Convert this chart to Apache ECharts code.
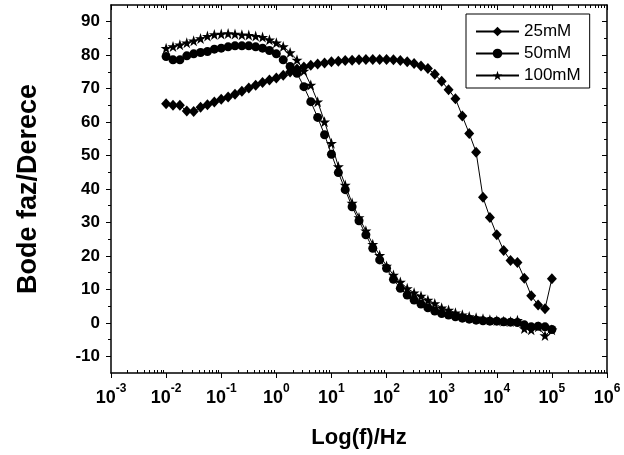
<!DOCTYPE html>
<html lang="tr">
<head>
    <meta charset="utf-8">
    <title>Bode faz</title>
    <script src="https://cdn.jsdelivr.net/npm/echarts@6/dist/echarts.min.js"></script>
</head>
<body>
    <style type="text/css">
        html, body { height: 100%; }
        body { margin: 0; background: #fff; }
    </style>
    <div id="main" style="width:624px;height:455px;"></div>
    <script type="text/javascript">
        // frekans (Hz), 8 nokta/dekad
        var freq = [
            0.01, 0.01334, 0.01778, 0.02371, 0.03162, 0.04217, 0.05623, 0.07499,
            0.1, 0.1334, 0.1778, 0.2371, 0.3162, 0.4217, 0.5623, 0.7499,
            1, 1.334, 1.778, 2.371, 3.162, 4.217, 5.623, 7.499,
            10, 13.34, 17.78, 23.71, 31.62, 42.17, 56.23, 74.99,
            100, 133.4, 177.8, 237.1, 316.2, 421.7, 562.3, 749.9,
            1000, 1334, 1778, 2371, 3162, 4217, 5623, 7499,
            10000, 13340, 17780, 23710, 31620, 42170, 56230, 74990,
            100000
        ];
        var phase25 = [
            65.5, 65.0, 65.0, 63.3, 63.2, 64.4, 65.2, 66.0,
            66.8, 67.5, 68.3, 69.2, 70.2, 71.0, 71.8, 72.6,
            73.2, 74.0, 75.0, 75.9, 76.5, 77.0, 77.4, 77.7,
            78.0, 78.2, 78.4, 78.5, 78.6, 78.7, 78.7, 78.7,
            78.7, 78.6, 78.4, 78.0, 77.5, 76.8, 76.0, 74.3,
            72.2, 69.7, 67.0, 61.8, 56.6, 51.0, 37.5, 31.5,
            26.3, 21.6, 18.6, 18.0, 13.3, 8.1, 5.3, 4.2,
            13.2
        ];
        var phase50 = [
            79.6, 78.6, 78.6, 79.8, 80.4, 80.8, 81.1, 81.8,
            82.1, 82.5, 82.8, 82.8, 82.8, 82.5, 82.1, 81.4,
            80.4, 78.6, 76.6, 74.6, 70.6, 66.1, 61.4, 56.2,
            50.4, 44.9, 39.8, 34.7, 30.5, 26.3, 22.3, 18.8,
            16.3, 13.0, 10.3, 8.3, 6.8, 5.6, 4.5, 3.5,
            2.8, 2.3, 1.8, 1.4, 1.1, 0.8, 0.6, 0.5,
            0.5, 0.3, 0.2, 0.1, -0.6, -1.2, -1.0, -1.2,
            -2.0
        ];
        var phase100 = [
            82.1, 82.6, 83.1, 83.7, 84.3, 85.0, 85.7, 86.2,
            86.3, 86.5, 86.3, 86.1, 86.0, 85.7, 85.4, 84.6,
            83.7, 82.6, 80.8, 78.6, 75.3, 71.1, 66.1, 60.1,
            53.7, 46.7, 41.2, 35.8, 31.5, 27.5, 23.5, 20.2,
            17.0, 14.3, 12.2, 10.3, 9.0, 8.0, 6.8, 5.8,
            4.5, 3.8, 3.0, 2.4, 1.9, 1.5, 1.2, 0.9,
            0.7, 0.5, 0.4, 0.8, -1.7, -2.1, -1.2, -3.8,
            -2.1
        ];
        var seriesNames = ['25mM', '50mM', '100mM'];
        var xMajor = [0.001, 0.01, 0.1, 1, 10, 100, 1000, 10000, 100000, 1000000];
        var xMinor = [];
        xMajor.slice(0, -1).forEach(function (d) {
            for (var k = 2; k <= 9; k++) xMinor.push(d * k);
        });
        var yMajor = [-10, 0, 10, 20, 30, 40, 50, 60, 70, 80, 90];
        var yMinor = [-5, 5, 15, 25, 35, 45, 55, 65, 75, 85];

        var FONT = '"Liberation Sans", Arial, sans-serif';
        var starPath = 'path://M50,0 L61.8,35.1 L98.1,35.1 L68.8,56.8 L79.4,90.5 L50,69.5 L20.6,90.5 L31.2,56.8 L1.9,35.1 L38.2,35.1 Z';

        function pairs(ys) {
            return freq.map(function (f, i) { return [f, ys[i]]; });
        }

        function xAxisDef(pos, ticks, len, inside, showLine, showLabel) {
            return {
                type: 'log', logBase: 10, min: 0.001, max: 1000000,
                position: pos, gridIndex: 0,
                axisLine: { show: showLine, onZero: false, lineStyle: { color: '#000', width: 1.5 } },
                axisTick: { show: true, customValues: ticks, length: len, inside: inside, lineStyle: { color: '#000', width: 1 } },
                splitLine: { show: false },
                axisLabel: showLabel ? {
                    customValues: xMajor,
                    margin: 10,
                    formatter: function (v) {
                        return '{b|10}{s|' + Math.round(Math.log10(v)) + '}';
                    },
                    rich: {
                        b: { fontSize: 18, fontWeight: 'bold', fontFamily: FONT, color: '#000', lineHeight: 24, verticalAlign: 'bottom' },
                        s: { fontSize: 12, fontWeight: 'bold', fontFamily: FONT, color: '#000', lineHeight: 24, verticalAlign: 'top' }
                    }
                } : { show: false }
            };
        }

        function yAxisDef(pos, ticks, len, inside, showLine, showLabel) {
            return {
                type: 'value', min: -15, max: 95,
                position: pos, gridIndex: 0,
                axisLine: { show: showLine, onZero: false, lineStyle: { color: '#000', width: 1.5 } },
                axisTick: { show: true, customValues: ticks, length: len, inside: inside, lineStyle: { color: '#000', width: 1 } },
                splitLine: { show: false },
                axisLabel: showLabel ? {
                    customValues: yMajor,
                    margin: 11,
                    fontSize: 17, fontWeight: 'bold', fontFamily: FONT, color: '#000'
                } : { show: false }
            };
        }

        var xMain = xAxisDef('bottom', xMajor, 5, false, true, true);
        xMain.name = 'Log(f)/Hz';
        xMain.nameLocation = 'middle';
        xMain.nameGap = 54;
        xMain.nameTextStyle = { fontSize: 22, fontWeight: 'bold', fontFamily: FONT, color: '#000' };

        var yMain = yAxisDef('left', yMajor, 5, false, true, true);
        yMain.name = 'Bode faz/Derece';
        yMain.nameLocation = 'middle';
        yMain.nameGap = 69;
        yMain.nameTextStyle = { fontSize: 27, fontWeight: 'bold', fontFamily: FONT, color: '#000' };

        var myChart = echarts.init(document.getElementById('main'));

        var option = {
            animation: false,
            backgroundColor: '#fff',
            grid: { left: 111, right: 17, top: 5, bottom: 82 },
            legend: {
                data: seriesNames,
                orient: 'vertical',
                left: 466,
                top: 14,
                padding: [9, 9, 4, 9],
                itemWidth: 43,
                itemHeight: 12,
                itemGap: 5,
                borderColor: '#000',
                borderWidth: 1,
                textStyle: { fontSize: 17, fontFamily: FONT, color: '#000' }
            },
            xAxis: [
                xMain,
                xAxisDef('bottom', xMinor, 3, true, false, false),
                xAxisDef('top', xMajor, 5, true, true, false),
                xAxisDef('top', xMinor, 3, true, false, false)
            ],
            yAxis: [
                yMain,
                yAxisDef('left', yMinor, 3, false, false, false),
                yAxisDef('right', yMajor, 5, true, true, false),
                yAxisDef('right', yMinor, 3, true, false, false)
            ],
            series: [
                {
                    name: seriesNames[0], type: 'line', data: pairs(phase25),
                    symbol: 'diamond', symbolSize: [10, 11],
                    itemStyle: { color: '#000' }, lineStyle: { color: '#000', width: 1 }
                },
                {
                    name: seriesNames[1], type: 'line', data: pairs(phase50),
                    symbol: 'circle', symbolSize: 9,
                    itemStyle: { color: '#000' }, lineStyle: { color: '#000', width: 1 }
                },
                {
                    name: seriesNames[2], type: 'line', data: pairs(phase100),
                    symbol: starPath, symbolSize: 11,
                    itemStyle: { color: '#000' }, lineStyle: { color: '#000', width: 1 }
                }
            ]
        };

        option && myChart.setOption(option);
    </script>
</body>
</html>
